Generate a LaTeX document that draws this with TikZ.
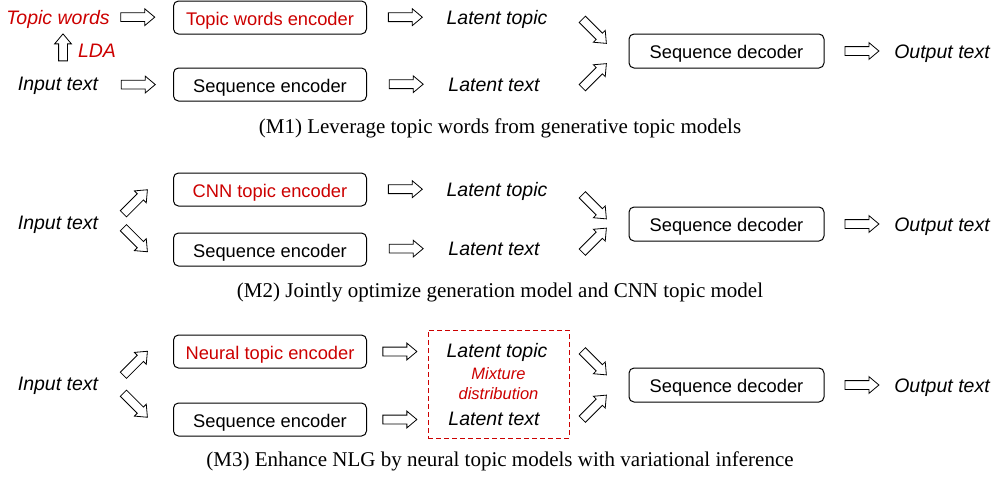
\documentclass[tikz,border=0pt]{standalone}
\usepackage{fontspec}
\setmainfont{Liberation Serif}
\setsansfont{Liberation Sans}
\usetikzlibrary{shapes.arrows}

\definecolor{tmred}{RGB}{204,0,0}

\tikzstyle{lbl}=[inner sep=0pt, text height=15pt, text depth=0pt, font=\sffamily\itshape\fontsize{19.5}{22}\selectfont]
\tikzstyle{enc}=[draw, rounded corners=5pt, line width=1pt, minimum width=193pt, minimum height=33pt, inner sep=0pt, text height=15.4pt, text depth=0pt, font=\sffamily\fontsize{18.3}{22}\selectfont]
\tikzstyle{dec}=[enc, minimum width=195pt, minimum height=34pt]
\tikzstyle{barrow}=[draw, single arrow, single arrow head extend=4pt, single arrow tip angle=80, inner sep=4pt, minimum height=34pt, line width=0.8pt]
\tikzstyle{captxt}=[inner sep=0pt, font=\fontsize{21}{24}\selectfont]

\begin{document}
\begin{tikzpicture}[x=1pt, y=-1pt]
\useasboundingbox (0,0) rectangle (999,477);

\node[lbl, text=tmred] (tw) at (58,17) {Topic words};
\node[lbl, text=tmred] (lda) at (97,50) {LDA};
\node[lbl] (in1) at (58,83) {Input text};
\node[enc, text=tmred] (twe) at (270,17.5) {Topic words encoder};
\node[enc] (se1) at (270,84.5) {Sequence encoder};
\node[lbl] (lt1) at (497,17) {Latent topic};
\node[lbl] (lx1) at (494,84) {Latent text};
\node[dec] (dec1) at (726.5,51) {Sequence decoder};
\node[lbl] (out1) at (942,51) {Output text};
\node[captxt] (c1) at (500,128) {(M1) Leverage topic words from generative topic models};

\path (in1) -- node[barrow, xshift=5pt, rotate=90, minimum height=27pt] {} (tw);
\path (tw) -- node[barrow, pos=.4] {} (twe);
\path (in1) -- node[barrow, yshift=-1pt] {} (se1);
\path (twe) -- node[barrow, pos=.45] {} (lt1);
\path (se1) -- node[barrow, pos=.45] {} (lx1);
\path (dec1.west) -- node[barrow, pos=0, xshift=-36pt, yshift=21.5pt, rotate=-45] {} (lt1);
\path (dec1.west) -- node[barrow, pos=0, xshift=-36pt, yshift=-26.5pt, rotate=45] {} (lx1);
\path (dec1) -- node[barrow] {} (out1);

\node[lbl] (in2) at (58,222) {Input text};
\node[enc, text=tmred] (cnn) at (270,189.5) {CNN topic encoder};
\node[enc] (se2) at (270,249.5) {Sequence encoder};
\node[lbl] (lt2) at (497,189) {Latent topic};
\node[lbl] (lx2) at (494,248) {Latent text};
\node[dec] (dec2) at (726.5,224) {Sequence decoder};
\node[lbl] (out2) at (942,224) {Output text};
\node[captxt] (c2) at (500,292) {(M2) Jointly optimize generation model and CNN topic model};

\path (in2.east) -- node[barrow, rotate=45, yshift=3pt] {} (cnn.west);
\path (in2.east) -- node[barrow, rotate=-45, yshift=-3pt] {} (se2.west);
\path (cnn) -- node[barrow, pos=.45] {} (lt2);
\path (se2) -- node[barrow, pos=.45] {} (lx2);
\path (dec2.west) -- node[barrow, pos=0, xshift=-36pt, yshift=19pt, rotate=-45] {} (lt2);
\path (dec2.west) -- node[barrow, pos=0, xshift=-36pt, yshift=-18pt, rotate=45] {} (lx2);
\path (dec2) -- node[barrow] {} (out2);

\node[lbl] (in3) at (58,383) {Input text};
\node[enc, text=tmred] (nte) at (270,351.5) {Neural topic encoder};
\node[enc] (se3) at (270,419.5) {Sequence encoder};
\node[draw=tmred, dash pattern=on 5pt off 3pt, line width=1pt, minimum width=141pt, minimum height=108pt, align=center, text=tmred, font=\sffamily\itshape\fontsize{16.5}{20}\selectfont] (mix) at (498.5,384) {Mixture\\distribution};
\node[lbl] (lt3) at (497,350) {Latent topic};
\node[lbl] (lx3) at (494,418) {Latent text};
\node[dec] (dec3) at (726.5,385) {Sequence decoder};
\node[lbl] (out3) at (942,385) {Output text};
\node[captxt] (c3) at (500,461) {(M3) Enhance NLG by neural topic models with variational inference};

\path (in3.east) -- node[barrow, rotate=45, yshift=3pt] {} (nte.west);
\path (in3.east) -- node[barrow, rotate=-45, yshift=-3pt] {} (se3.west);
\path (nte.east) -- node[barrow, pos=.5] {} (mix.west |- nte.east);
\path (se3.east) -- node[barrow, pos=.5] {} (mix.west |- se3.east);
\path (dec3.west) -- node[barrow, pos=0, xshift=-36pt, yshift=24pt, rotate=-45] {} (lt3);
\path (dec3.west) -- node[barrow, pos=0, xshift=-36pt, yshift=-24pt, rotate=45] {} (lx3);
\path (dec3) -- node[barrow] {} (out3);

\end{tikzpicture}
\end{document}
